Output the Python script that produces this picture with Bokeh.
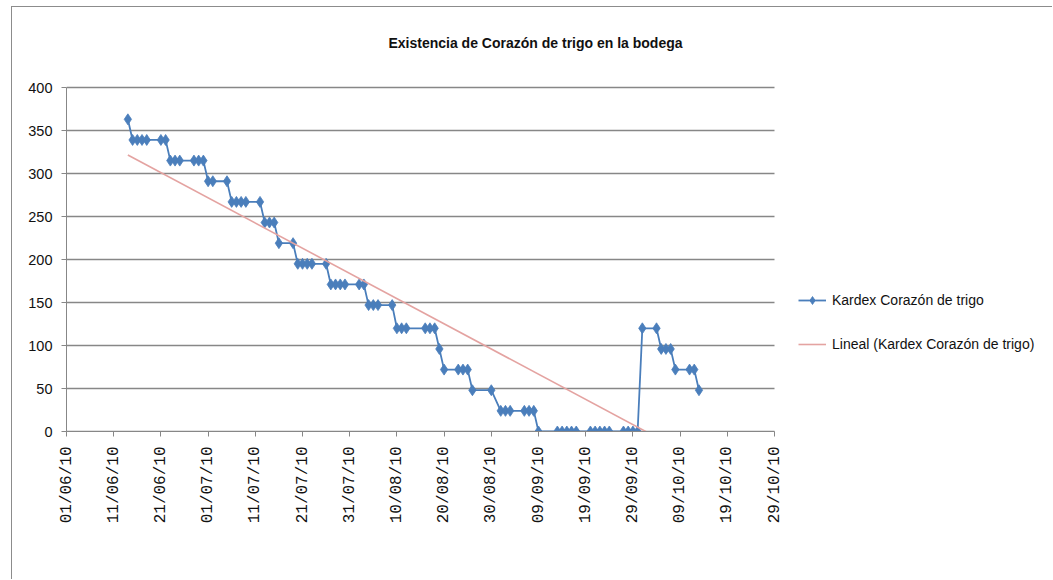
import math
from datetime import datetime

import numpy as np
from bokeh.embed import file_html
from bokeh.models import (ColumnDataSource, DatetimeTickFormatter, FixedTicker,
                          Label, Legend, LegendItem, Range1d)
from bokeh.plotting import figure
from bokeh.resources import INLINE

TITLE = "Existencia de Corazón de trigo en la bodega"
SERIES_NAME = "Kardex Corazón de trigo"
TREND_NAME = "Lineal (Kardex Corazón de trigo)"

# Stock counts (kardex) by date
count_dates = [
    "14/06/10", "15/06/10", "16/06/10", "17/06/10", "18/06/10", "21/06/10", "22/06/10",
    "23/06/10", "24/06/10", "25/06/10", "28/06/10", "29/06/10", "30/06/10",
    "01/07/10", "02/07/10", "05/07/10", "06/07/10", "07/07/10", "08/07/10", "09/07/10",
    "12/07/10", "13/07/10", "14/07/10", "15/07/10", "16/07/10", "19/07/10",
    "20/07/10", "21/07/10", "22/07/10", "23/07/10", "26/07/10", "27/07/10", "28/07/10",
    "29/07/10", "30/07/10", "02/08/10", "03/08/10", "04/08/10", "05/08/10", "06/08/10",
    "09/08/10", "10/08/10", "11/08/10", "12/08/10", "16/08/10", "17/08/10", "18/08/10",
    "19/08/10", "20/08/10", "23/08/10", "24/08/10", "25/08/10", "26/08/10", "30/08/10",
    "01/09/10", "02/09/10", "03/09/10", "06/09/10", "07/09/10", "08/09/10", "09/09/10",
    "13/09/10", "14/09/10", "15/09/10", "16/09/10", "17/09/10", "20/09/10", "21/09/10",
    "22/09/10", "23/09/10", "24/09/10", "27/09/10", "28/09/10", "29/09/10", "30/09/10",
    "01/10/10", "04/10/10", "05/10/10", "06/10/10", "07/10/10", "08/10/10", "11/10/10",
    "12/10/10", "13/10/10",
]
stock = [
    363, 339, 339, 339, 339, 339, 339,
    315, 315, 315, 315, 315, 315,
    291, 291, 291, 267, 267, 267, 267,
    267, 243, 243, 243, 219, 219,
    195, 195, 195, 195, 195, 171, 171,
    171, 171, 171, 171, 147, 147, 147,
    147, 120, 120, 120, 120, 120, 120,
    96, 72, 72, 72, 72, 48, 48,
    24, 24, 24, 24, 24, 24, 0,
    0, 0, 0, 0, 0, 0, 0,
    0, 0, 0, 0, 0, 0, 0,
    120, 120, 96, 96, 96, 72, 72,
    72, 48,
]

x_tick_labels = [
    "01/06/10", "11/06/10", "21/06/10", "01/07/10", "11/07/10", "21/07/10",
    "31/07/10", "10/08/10", "20/08/10", "30/08/10", "09/09/10", "19/09/10",
    "29/09/10", "09/10/10", "19/10/10", "29/10/10",
]
y_ticks = [0, 50, 100, 150, 200, 250, 300, 350, 400]

SANS = "Liberation Sans"
BLUE = "#4a7ebb"
PINK = "#e4a3a1"
GRID = "#878787"
TEXT = "#111111"

# Page geometry (pixels): chart area starts inside a thin border
W, H = 1041, 573
AX_LEFT, AX_BOTTOM = 54, 149          # space for tick labels
AX_WIDTH, AX_HEIGHT = 708, 344        # plotting area spanned by the axes


def parse(s):
    return datetime.strptime(s, "%d/%m/%y")


def to_ms(d):
    return (d - datetime(1970, 1, 1)).total_seconds() * 1000.0


dates = [parse(s) for s in count_dates]
tick_dates = [parse(s) for s in x_tick_labels]
x0, x1 = to_ms(tick_dates[0]), to_ms(tick_dates[-1])
y0, y1 = y_ticks[0], y_ticks[-1]

# Linear trend of stock against the count date
days = np.array([(d - dates[0]).days for d in dates], dtype=float)
slope, intercept = np.polyfit(days, np.array(stock, dtype=float), 1)
trend_x = [dates[0], dates[-1]]
trend_y = [intercept, intercept + slope * days[-1]]

# The frame covers the whole area right of / above the axes so the title and
# legend can sit in it; the axes themselves are bounded to the data extent.
frame_w = W - AX_LEFT
frame_h = H - AX_BOTTOM
x_end = x0 + (x1 - x0) * frame_w / AX_WIDTH
y_end = y0 + (y1 - y0) * frame_h / AX_HEIGHT

p = figure(
    width=W, height=H,
    x_axis_type="datetime",
    x_range=Range1d(x0, x_end),
    y_range=Range1d(y0, y_end),
    output_backend="svg", toolbar_location=None,
    min_border_left=AX_LEFT, min_border_right=0,
    min_border_top=0, min_border_bottom=AX_BOTTOM,
)
p.outline_line_color = None
p.background_fill_color = "white"
p.border_fill_color = "white"
p.styles = {"margin-left": "11px", "margin-top": "6px",
            "border-left": "1px solid #8c8c8c", "border-top": "1px solid #8c8c8c"}

# Axes
xa = p.xaxis[0]
xa.bounds = (x0, x1)
xa.ticker = FixedTicker(ticks=[to_ms(d) for d in tick_dates])
fmt = "%d/%m/%y"
xa.formatter = DatetimeTickFormatter(days=fmt, months=fmt, years=fmt, hours=fmt,
                                     minutes=fmt, seconds=fmt, milliseconds=fmt,
                                     minsec=fmt, hourmin=fmt)
xa.major_label_orientation = math.pi / 2
xa.major_label_text_font = "Liberation Mono"
xa.major_label_text_font_size = "16px"
xa.major_label_text_color = TEXT
xa.major_label_standoff = 10
xa.axis_line_color = GRID
xa.major_tick_line_color = GRID
xa.major_tick_out = 5
xa.major_tick_in = 0
xa.minor_tick_out = 0
xa.minor_tick_in = 0

ya = p.yaxis[0]
ya.bounds = (y0, y1)
ya.ticker = FixedTicker(ticks=y_ticks)
ya.major_label_text_font = SANS
ya.major_label_text_font_size = "14.5px"
ya.major_label_text_color = TEXT
ya.major_label_standoff = 9
ya.axis_line_color = GRID
ya.major_tick_line_color = GRID
ya.major_tick_out = 5
ya.major_tick_in = 0
ya.minor_tick_out = 0
ya.minor_tick_in = 0

p.grid.visible = False

# Horizontal gridlines across the dated extent
p.segment(x0=[x0] * len(y_ticks), x1=[x1] * len(y_ticks), y0=y_ticks, y1=y_ticks,
          line_color=GRID, line_width=1.6)

# Data series and its trend (the trend is cut off at the zero line)
src = ColumnDataSource(dict(date=dates, stock=stock))
line_r = p.line("date", "stock", source=src, line_color=BLUE, line_width=1.8)
mark_r = p.scatter("date", "stock", source=src, marker="diamond", size=11,
                   fill_color=BLUE, line_color=BLUE, line_width=0.8)
trend_r = p.line(trend_x, trend_y, line_color=PINK, line_width=1.6)

legend = Legend(
    items=[LegendItem(label=SERIES_NAME, renderers=[line_r, mark_r]),
           LegendItem(label=TREND_NAME, renderers=[trend_r])],
    location=(732, 77),
    orientation="vertical",
    border_line_color=None,
    background_fill_alpha=0,
    padding=0, margin=0, spacing=24,
    glyph_width=28, glyph_height=20, label_height=20, label_standoff=6,
    label_text_font=SANS, label_text_font_size="14px",
    label_text_color=TEXT,
)
p.add_layout(legend)

# Chart title
p.add_layout(Label(x=522, y=34, x_units="canvas", y_units="canvas", text=TITLE,
                   text_align="center", text_baseline="middle",
                   text_font=SANS, text_font_size="14px", text_font_style="bold",
                   text_color=TEXT))

open("out.html", "w").write(file_html(p, INLINE))
